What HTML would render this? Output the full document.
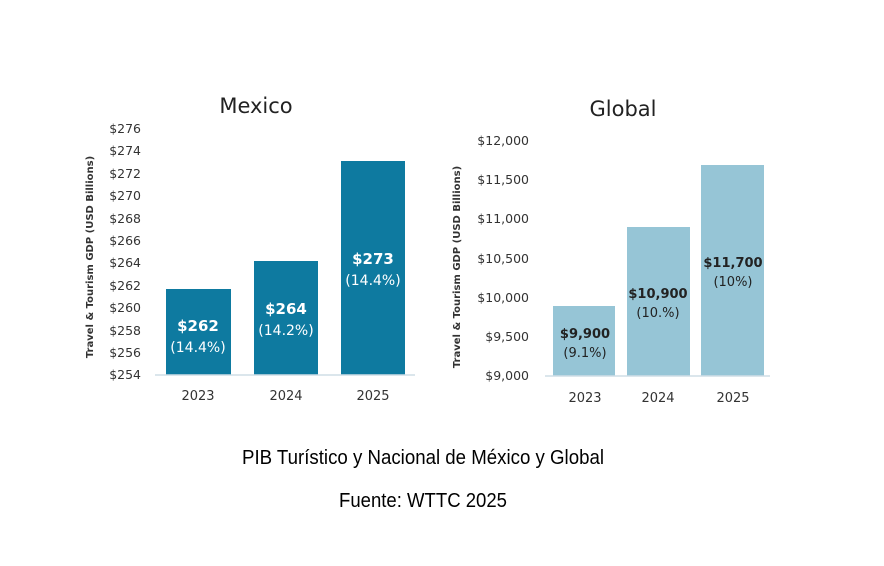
<!DOCTYPE html>
<html><head><meta charset="utf-8"><style>
body{margin:0;background:#fff}
svg{display:block}
text{font-family:"DejaVu Sans","Liberation Sans",sans-serif}
.t{font-size:12.5px;fill:#333}
.y{font-size:13px;fill:#333}
.cap{font-family:"Liberation Sans",sans-serif;font-size:20px;fill:#000}
</style></head><body>
<svg width="884" height="566" viewBox="0 0 884 566">
<!-- Mexico -->
<text x="256" y="113" text-anchor="middle" font-size="21" fill="#222">Mexico</text>
<g class="t" text-anchor="end">
<text x="141" y="133">$276</text><text x="141" y="155">$274</text><text x="141" y="178">$272</text>
<text x="141" y="200">$270</text><text x="141" y="223">$268</text><text x="141" y="245">$266</text>
<text x="141" y="267">$264</text><text x="141" y="290">$262</text><text x="141" y="312">$260</text>
<text x="141" y="335">$258</text><text x="141" y="357">$256</text><text x="141" y="379">$254</text>
</g>
<text transform="translate(93,257) rotate(-90)" text-anchor="middle" font-size="10" font-weight="bold" fill="#333">Travel &amp; Tourism GDP (USD Billions)</text>
<rect x="166" y="289" width="65" height="86" fill="#0e7aa0"/>
<rect x="254" y="261" width="64" height="114" fill="#0e7aa0"/>
<rect x="341" y="161" width="64" height="214" fill="#0e7aa0"/>
<line x1="155" y1="375" x2="415" y2="375" stroke="#cfdde6" stroke-width="1.5"/>
<g text-anchor="middle" fill="#fff">
<text x="198" y="331" font-size="15" font-weight="bold">$262</text><text x="198" y="352" font-size="14">(14.4%)</text>
<text x="286" y="314" font-size="15" font-weight="bold">$264</text><text x="286" y="335" font-size="14">(14.2%)</text>
<text x="373" y="264" font-size="15" font-weight="bold">$273</text><text x="373" y="285" font-size="14">(14.4%)</text>
</g>
<g class="y" text-anchor="middle">
<text x="198" y="400">2023</text><text x="286" y="400">2024</text><text x="373" y="400">2025</text>
</g>
<!-- Global -->
<text x="623" y="116" text-anchor="middle" font-size="21" fill="#222">Global</text>
<g class="t" text-anchor="end">
<text x="529" y="145">$12,000</text><text x="529" y="184">$11,500</text><text x="529" y="223">$11,000</text>
<text x="529" y="263">$10,500</text><text x="529" y="302">$10,000</text><text x="529" y="341">$9,500</text>
<text x="529" y="380">$9,000</text>
</g>
<text transform="translate(460,267) rotate(-90)" text-anchor="middle" font-size="10" font-weight="bold" fill="#333">Travel &amp; Tourism GDP (USD Billions)</text>
<rect x="553" y="306" width="62" height="70" fill="#96c5d6"/>
<rect x="627" y="227" width="63" height="149" fill="#96c5d6"/>
<rect x="701" y="165" width="63" height="211" fill="#96c5d6"/>
<line x1="545" y1="376" x2="770" y2="376" stroke="#cfdde6" stroke-width="1.5"/>
<g text-anchor="middle" fill="#222">
<text x="585" y="338" font-size="13" font-weight="bold">$9,900</text><text x="585" y="357" font-size="13">(9.1%)</text>
<text x="658" y="298" font-size="13" font-weight="bold">$10,900</text><text x="658" y="317" font-size="13">(10.%)</text>
<text x="733" y="267" font-size="13" font-weight="bold">$11,700</text><text x="733" y="286" font-size="13">(10%)</text>
</g>
<g class="y" text-anchor="middle">
<text x="585" y="402">2023</text><text x="658" y="402">2024</text><text x="733" y="402">2025</text>
</g>
<text class="cap" x="423" y="464" text-anchor="middle" textLength="362" lengthAdjust="spacingAndGlyphs">PIB Turístico y Nacional de México y Global</text>
<text class="cap" x="423" y="507" text-anchor="middle" textLength="168" lengthAdjust="spacingAndGlyphs">Fuente: WTTC 2025</text>
</svg>
</body></html>
